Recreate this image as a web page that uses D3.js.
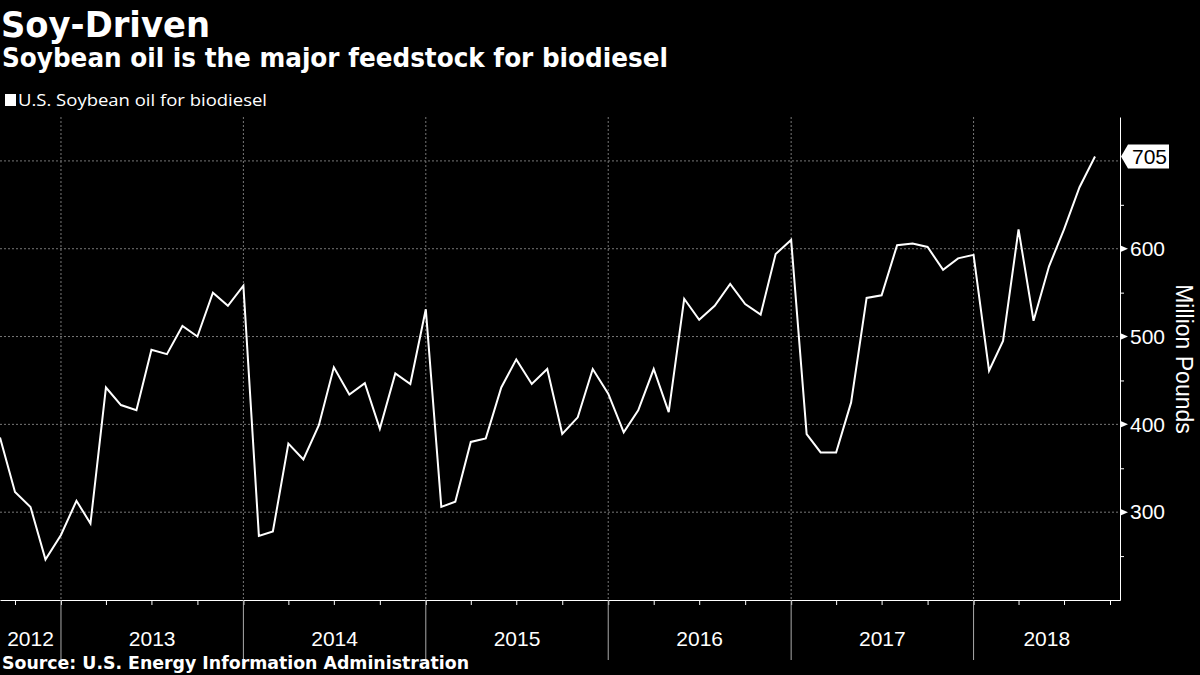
<!DOCTYPE html>
<html>
<head>
<meta charset="utf-8">
<script src="https://cdn.jsdelivr.net/npm/d3@7"></script>
<style>
  body { margin: 0; background: #000; }
</style>
</head>
<body>
<div class="canvas"></div>
<script>
// monthly values, million pounds (2012 starts in Sep, 2018 ends in Sep)
const soy2012 = [385, 323, 306, 246];
const soy2013 = [274, 313, 287, 442, 422, 416, 485, 480, 512, 500, 550, 535];
const soy2014 = [558, 273, 278, 378, 360, 399, 465, 434, 447, 395, 458, 446];
const soy2015 = [531, 306, 312, 380, 384, 442, 474, 446, 463, 389, 408, 463];
const soy2016 = [435, 391, 416, 463, 414, 543, 519, 535, 560, 537, 525, 594];
const soy2017 = [610, 389, 368, 368, 425, 544, 547, 604, 606, 602, 576, 589];
const soy2018 = [593, 461, 495, 622, 518, 580, 622, 670, 705];
const years = [2012, 2013, 2014, 2015, 2016, 2017, 2018];
const yTicks = [300, 400, 500, 600];
const yMinor = [250, 350, 450, 550, 650];
const yGrid = [300, 400, 500, 600, 700];

const svg = d3.select('.canvas')
    .append('svg')
    .attr('width', 1200)
    .attr('height', 675)
    .style('background', '#000');

// build the monthly series
const data = [];
[soy2012, soy2013, soy2014, soy2015, soy2016, soy2017, soy2018].forEach((arr, i) => {
    const startMonth = i === 0 ? 8 : 0;
    arr.forEach((v, j) => data.push({ date: new Date(years[i], startMonth + j, 1), value: v }));
});

const plotLeft = 0, plotRight = 1120, plotTop = 117, plotBottom = 600;

const x = d3.scaleTime()
    .domain([new Date(2012, 8, 1), new Date(2018, 9, 21)])
    .range([plotLeft, plotRight]);

const y = d3.scaleLinear()
    .domain([200, 750])
    .range([plotBottom, plotTop]);

// gridlines
svg.append('g')
    .selectAll('line')
    .data(yGrid)
    .enter()
    .append('line')
    .attr('x1', plotLeft)
    .attr('x2', plotRight)
    .attr('y1', d => y(d))
    .attr('y2', d => y(d))
    .attr('stroke', '#777')
    .attr('stroke-width', 1)
    .attr('stroke-dasharray', '2,2');

const yearStarts = years.slice(1).map(yr => new Date(yr, 0, 1));

svg.append('g')
    .selectAll('line')
    .data(yearStarts)
    .enter()
    .append('line')
    .attr('x1', d => x(d))
    .attr('x2', d => x(d))
    .attr('y1', plotTop)
    .attr('y2', plotBottom)
    .attr('stroke', '#777')
    .attr('stroke-width', 1)
    .attr('stroke-dasharray', '2,2');

// x axis with quarter ticks
const xAxis = d3.axisBottom(x)
    .ticks(d3.timeMonth.every(3))
    .tickSize(5)
    .tickSizeOuter(0)
    .tickFormat('');

const xAxisGroup = svg.append('g')
    .attr('transform', `translate(0, ${plotBottom})`)
    .call(xAxis);
xAxisGroup.selectAll('path, line').attr('stroke', '#fff');

// year separators below axis
svg.append('g')
    .selectAll('line')
    .data(yearStarts)
    .enter()
    .append('line')
    .attr('x1', d => x(d))
    .attr('x2', d => x(d))
    .attr('y1', plotBottom)
    .attr('y2', 660)
    .attr('stroke', '#aaa')
    .attr('stroke-width', 1);

// year labels centred in the visible part of each year
svg.append('g')
    .selectAll('text')
    .data(years)
    .enter()
    .append('text')
    .attr('x', yr => {
        const a = Math.max(x(new Date(yr, 0, 1)), plotLeft);
        const b = Math.min(x(new Date(yr + 1, 0, 1)), plotRight);
        return (a + b) / 2;
    })
    .attr('y', 646)
    .attr('text-anchor', 'middle')
    .attr('fill', '#fff')
    .attr('font-family', 'Liberation Sans, sans-serif')
    .attr('font-size', 21)
    .text(d => d);

// right axis
const yMinorAxis = d3.axisRight(y)
    .tickValues(yMinor)
    .tickSize(4)
    .tickSizeOuter(0)
    .tickFormat('');

const yAxisGroup = svg.append('g')
    .attr('transform', `translate(${plotRight}, 0)`)
    .call(yMinorAxis);
yAxisGroup.selectAll('path, line').attr('stroke', '#fff');

const yAxis = d3.axisRight(y)
    .tickValues(yTicks)
    .tickSize(0)
    .tickPadding(10)
    .tickSizeOuter(0);

const yLabels = svg.append('g')
    .attr('transform', `translate(${plotRight}, 0)`)
    .call(yAxis);
yLabels.select('.domain').remove();
yLabels.selectAll('text')
    .attr('fill', '#fff')
    .attr('font-family', 'Liberation Sans, sans-serif')
    .attr('font-size', 21);

svg.append('g')
    .selectAll('path')
    .data(yTicks)
    .enter()
    .append('path')
    .attr('transform', d => `translate(${plotRight}, ${y(d)})`)
    .attr('d', 'M0,-3.5L8,0L0,3.5Z')
    .attr('fill', '#fff');

svg.append('text')
    .attr('transform', 'translate(1176, 359) rotate(90)')
    .attr('text-anchor', 'middle')
    .attr('fill', '#fff')
    .attr('font-family', 'Liberation Sans, sans-serif')
    .attr('font-size', 23)
    .text('Million Pounds');

// the line
const line = d3.line()
    .x(d => x(d.date))
    .y(d => y(d.value));

svg.append('path')
    .datum(data)
    .attr('d', line)
    .attr('fill', 'none')
    .attr('stroke', '#fff')
    .attr('stroke-width', 2);

// last value callout
const last = data[data.length - 1];
const callout = svg.append('g')
    .attr('transform', `translate(${plotRight + 1}, ${y(last.value)})`);
callout.append('path')
    .attr('d', 'M0,0L7,-12L48,-12L48,12L7,12Z')
    .attr('fill', '#fff');
callout.append('text')
    .attr('x', 11)
    .attr('y', 0)
    .attr('dy', '0.36em')
    .attr('fill', '#000')
    .attr('font-family', 'Liberation Sans, sans-serif')
    .attr('font-size', 21)
    .text(last.value);

// titles, legend, source
svg.append('text')
    .attr('x', 1)
    .attr('y', 37)
    .attr('fill', '#fff')
    .attr('font-family', 'DejaVu Sans, sans-serif')
    .attr('font-weight', 'bold')
    .attr('font-size', 36)
    .attr('textLength', 209)
    .attr('lengthAdjust', 'spacingAndGlyphs')
    .text('Soy-Driven');

svg.append('text')
    .attr('x', 2)
    .attr('y', 67)
    .attr('fill', '#fff')
    .attr('font-family', 'DejaVu Sans, sans-serif')
    .attr('font-weight', 'bold')
    .attr('font-size', 26)
    .attr('textLength', 666)
    .attr('lengthAdjust', 'spacingAndGlyphs')
    .text('Soybean oil is the major feedstock for biodiesel');

svg.append('rect')
    .attr('x', 5)
    .attr('y', 94)
    .attr('width', 11)
    .attr('height', 12)
    .attr('fill', '#fff');

svg.append('text')
    .attr('x', 18)
    .attr('y', 106)
    .attr('fill', '#fff')
    .attr('font-family', 'Open Sans, sans-serif')
    .attr('font-size', 16.5)
    .attr('textLength', 249)
    .attr('lengthAdjust', 'spacingAndGlyphs')
    .text('U.S. Soybean oil for biodiesel');

svg.append('text')
    .attr('x', 2)
    .attr('y', 669)
    .attr('fill', '#fff')
    .attr('font-family', 'DejaVu Sans, sans-serif')
    .attr('font-weight', 'bold')
    .attr('font-size', 17)
    .attr('textLength', 467)
    .attr('lengthAdjust', 'spacingAndGlyphs')
    .text('Source: U.S. Energy Information Administration');
</script>
</body>
</html>
